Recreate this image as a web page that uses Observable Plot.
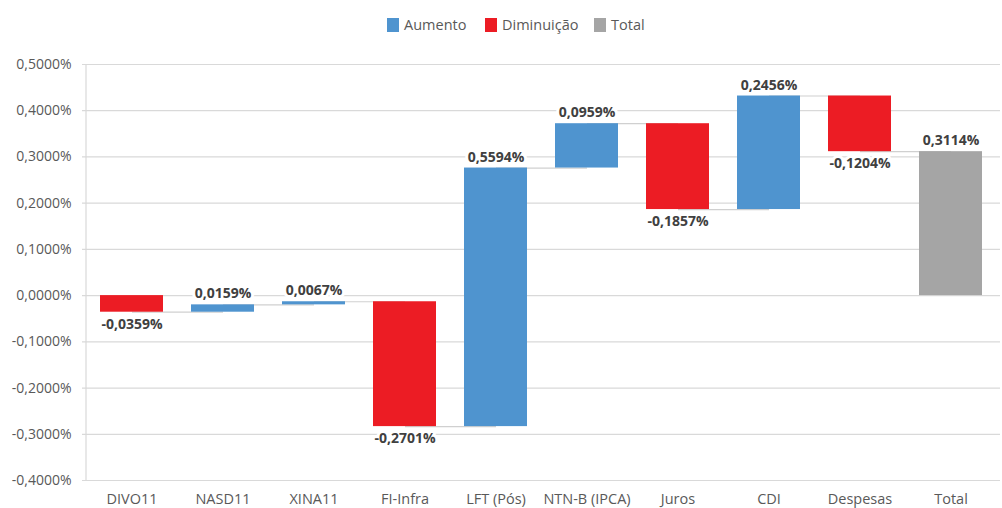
<!DOCTYPE html>
<html>
<head>
<meta charset="utf-8">
<script src="https://cdn.jsdelivr.net/npm/d3@7"></script>
<script src="https://cdn.jsdelivr.net/npm/@observablehq/plot@0.6"></script>
<style>
  html, body { margin: 0; padding: 0; background: #fff; }
  body { width: 1002px; height: 508px; overflow: hidden; font-family: "Open Sans", sans-serif; }
  #legend { position: relative; height: 48px; }
  .item { position: absolute; top: 15px; display: flex; align-items: center; font-size: 14.5px; color: #595959; }
  .sw { width: 12px; height: 14px; margin-right: 5px; }
</style>
</head>
<body>
<div id="legend"></div>
<div id="chart"></div>
<script>
const categories = ["DIVO11", "NASD11", "XINA11", "FI-Infra", "LFT (Pós)", "NTN-B (IPCA)", "Juros", "CDI", "Despesas", "Total"];
const values = [-0.0359, 0.0159, 0.0067, -0.2701, 0.5594, 0.0959, -0.1857, 0.2456, -0.1204, 0.3114];
const types = ["Diminuição", "Aumento", "Aumento", "Diminuição", "Aumento", "Aumento", "Diminuição", "Aumento", "Diminuição", "Total"];
const legendLabels = ["Aumento", "Diminuição", "Total"];
const colors = ["#4f94cf", "#ec1c24", "#a5a5a5"];
const yTicks = [-0.4, -0.3, -0.2, -0.1, 0, 0.1, 0.2, 0.3, 0.4, 0.5];

const fmt = v => (v < 0 ? "-" : "") + Math.abs(v).toFixed(4).replace(".", ",") + "%";

// build waterfall table
let cum = 0;
const rows = categories.map((c, i) => {
  let start, end;
  if (types[i] === "Total") { start = 0; end = values[i]; }
  else { start = cum; end = cum + values[i]; cum = end; }
  return {cat: c, value: values[i], type: types[i], start, end,
          labelY: types[i] === "Diminuição" ? Math.min(start, end) : Math.max(start, end)};
});
const links = rows.slice(0, -1).map((r, i) => ({a: r.cat, b: rows[i + 1].cat, y: r.end}));

// legend
const legend = document.getElementById("legend");
const lefts = [387, 485, 594];
legendLabels.forEach((l, i) => {
  const d = document.createElement("div");
  d.className = "item";
  d.style.left = lefts[i] + "px";
  d.innerHTML = `<span class="sw" style="background:${colors[i]}"></span><span>${l}</span>`;
  legend.appendChild(d);
});

const labelStyle = {fontWeight: "bold", fontSize: 14, fill: "#404040", stroke: "white", strokeWidth: 6, paintOrder: "stroke"};

const chart = Plot.plot({
  width: 1002,
  height: 460,
  marginLeft: 82,
  marginRight: 2,
  marginTop: 16,
  marginBottom: 28,
  style: {fontFamily: "Open Sans, sans-serif", color: "#595959", background: "#fff"},
  x: {domain: categories, paddingInner: 0.31, paddingOuter: 0.155, label: null, axis: null},
  y: {domain: [-0.4, 0.5], label: null, axis: null},
  color: {domain: legendLabels, range: colors},
  marks: [
    Plot.ruleY(yTicks, {stroke: "#d9d9d9", strokeWidth: 1.2}),
    Plot.ruleX([categories[0]], {y1: -0.4, y2: 0.5, stroke: "#d9d9d9", strokeWidth: 1.2, dx: -46}),
    Plot.axisY({ticks: yTicks, tickFormat: fmt, tickSize: 0, tickPadding: 11, fontSize: 14, fill: "#595959", label: null}),
    Plot.axisX({tickSize: 0, tickPadding: 13, fontSize: 14.5, fill: "#595959", label: null}),
    Plot.link(links, {x1: "a", x2: "b", y1: "y", y2: "y", stroke: "#d0d0d0", strokeWidth: 1.2}),
    Plot.barY(rows, {x: "cat", y1: "start", y2: "end", fill: "type"}),
    Plot.text(rows.filter(r => r.type !== "Diminuição"), {x: "cat", y: "labelY", text: d => fmt(d.value), dy: -11, ...labelStyle}),
    Plot.text(rows.filter(r => r.type === "Diminuição"), {x: "cat", y: "labelY", text: d => fmt(d.value), dy: 12, ...labelStyle})
  ]
});
document.getElementById("chart").appendChild(chart);
</script>
</body>
</html>
